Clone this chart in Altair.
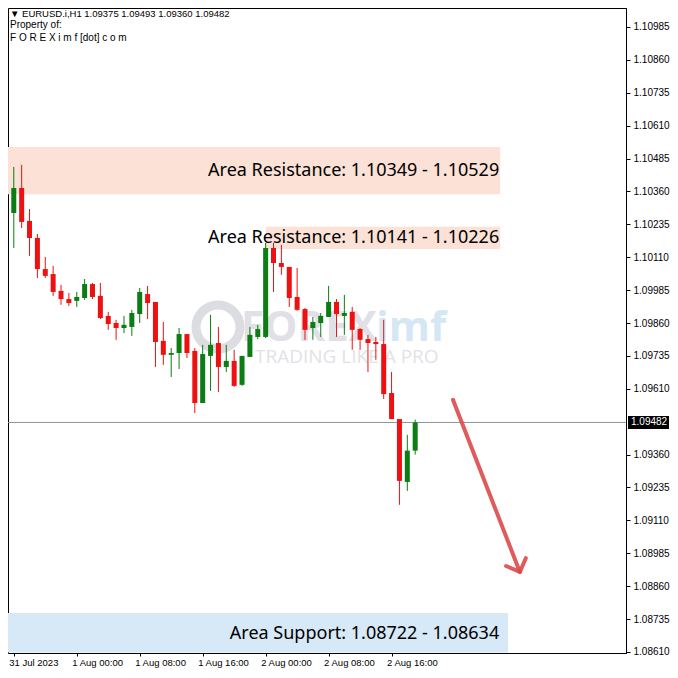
import altair as alt
import pandas as pd

# ---------------- data (EURUSD H1) ----------------
opens = [1.10278, 1.10373, 1.10248, 1.10183, 1.10065, 1.10046, 1.09982, 1.09951,
         1.09944, 1.09955, 1.10008, 1.09963, 1.09887, 1.09860, 1.09841, 1.09845,
         1.09894, 1.09970, 1.09940, 1.09792, 1.09739, 1.09746, 1.09818, 1.09754,
         1.09556, 1.09735, 1.09784, 1.09693, 1.09716, 1.09625, 1.09731, 1.09807,
         1.09807, 1.10145, 1.10088, 1.10073, 1.09959, 1.09913, 1.09841, 1.09860,
         1.09883, 1.09940, 1.09887, 1.09902, 1.09837, 1.09799, 1.09788, 1.09780,
         1.09594, 1.09495, 1.09256, 1.09375]
highs = [1.10453, 1.10461, 1.10293, 1.10198, 1.10111, 1.10077, 1.10005, 1.09974,
         1.09978, 1.10027, 1.10012, 1.10012, 1.09902, 1.09872, 1.09887, 1.09910,
         1.09993, 1.10001, 1.09940, 1.09864, 1.09765, 1.09841, 1.09818, 1.09765,
         1.09777, 1.09891, 1.09845, 1.09777, 1.09758, 1.09735, 1.09845, 1.09853,
         1.10164, 1.10164, 1.10157, 1.10073, 1.10069, 1.09917, 1.09883, 1.09898,
         1.10001, 1.09951, 1.09967, 1.09921, 1.09841, 1.09815, 1.09807, 1.09872,
         1.09674, 1.09495, 1.09435, 1.09493]
lows = [1.10145, 1.10221, 1.10115, 1.10031, 1.10031, 1.09963, 1.09929, 1.09925,
        1.09921, 1.09948, 1.09951, 1.09875, 1.09834, 1.09796, 1.09822, 1.09811,
        1.09860, 1.09875, 1.09693, 1.09701, 1.09655, 1.09685, 1.09727, 1.09518,
        1.09556, 1.09602, 1.09598, 1.09674, 1.09617, 1.09621, 1.09731, 1.09799,
        1.09803, 1.09978, 1.10043, 1.09921, 1.09906, 1.09796, 1.09796, 1.09807,
        1.09883, 1.09807, 1.09815, 1.09758, 1.09758, 1.09674, 1.09720, 1.09571,
        1.09495, 1.09169, 1.09222, 1.09360]
closes = [1.10373, 1.10244, 1.10183, 1.10065, 1.10039, 1.09978, 1.09951, 1.09936,
          1.09959, 1.10008, 1.09959, 1.09879, 1.09856, 1.09841, 1.09853, 1.09898,
          1.09978, 1.09936, 1.09788, 1.09739, 1.09746, 1.09818, 1.09746, 1.09556,
          1.09742, 1.09777, 1.09693, 1.09716, 1.09621, 1.09735, 1.09815, 1.09837,
          1.10145, 1.10088, 1.10073, 1.09955, 1.09910, 1.09834, 1.09864, 1.09887,
          1.09940, 1.09894, 1.09898, 1.09834, 1.09796, 1.09784, 1.09780, 1.09590,
          1.09495, 1.09260, 1.09375, 1.09482]

time_tick_index = [0, 8, 16, 24, 32, 40, 48]
time_tick_labels = ["31 Jul 2023", "1 Aug 00:00", "1 Aug 08:00", "1 Aug 16:00",
                    "2 Aug 00:00", "2 Aug 08:00", "2 Aug 16:00"]
price_ticks = [1.10985, 1.10860, 1.10735, 1.10610, 1.10485, 1.10360, 1.10235,
               1.10110, 1.09985, 1.09860, 1.09735, 1.09610, 1.09360, 1.09235,
               1.09110, 1.08985, 1.08860, 1.08735, 1.08610]

zone_names = ["Area Resistance", "Area Resistance", "Area Support"]
zone_from = [1.10349, 1.10141, 1.08722]
zone_to = [1.10529, 1.10226, 1.08634]
zone_box_hi = [1.10529, 1.10226, 1.08758]
zone_box_lo = [1.10349, 1.10141, 1.08608]
zone_start = [-2.0, 32.0, -2.0]
zone_end = [61.8, 61.8, 62.8]
zone_text_end = [61.8, 61.8, 61.8]
zone_kind = ["res", "res", "sup"]

last_price = 1.09482
arrow_index = [55.8, 64.3]
arrow_price = [1.09568, 1.08914]

symbol = "EURUSD.i,H1"
header_ohlc = "1.09375 1.09493 1.09360 1.09482"

# ---------------- chart ----------------
PLOT_W, PLOT_H = 618, 645
X_DOMAIN = [-0.1, 77.15]
Y_DOMAIN = [1.08606, 1.11057]
xscale = alt.Scale(domain=X_DOMAIN, nice=False, zero=False)
yscale = alt.Scale(domain=Y_DOMAIN, nice=False, zero=False)
RED = "#ee1111"
GREEN = "#0b7d12"
FONT_SMALL = "Liberation Sans"

candles = pd.DataFrame({"i": list(range(len(opens))), "open": opens, "high": highs,
                        "low": lows, "close": closes})
candles["dir"] = ["up" if c >= o else "down" for o, c in zip(opens, closes)]
colscale = alt.Scale(domain=["up", "down"], range=[GREEN, RED])

label_expr = " : ".join(
    f"datum.value == {v} ? '{t}'" for v, t in zip(time_tick_index, time_tick_labels)
) + " : ''"

xaxis = alt.Axis(values=time_tick_index, labelExpr=label_expr, orient="bottom",
                 grid=False, tickSize=3, tickColor="black", domainColor="black",
                 labelAlign="left", labelBaseline="top", labelPadding=1,
                 labelOffset=-5,
                 labelFontSize=9.5, labelFont=FONT_SMALL, labelColor="black",
                 labelOverlap=False, labelFlush=False, title=None)
yaxis = alt.Axis(values=price_ticks, format=".5f", orient="right", grid=False,
                 tickSize=4, tickColor="black", domainColor="black",
                 labelPadding=3, labelFontSize=10, labelFont=FONT_SMALL,
                 labelColor="black", labelOverlap=False, labelFlush=False, title=None)


def X(field):
    return alt.X(field, scale=xscale, axis=xaxis)


def Y(field):
    return alt.Y(field, scale=yscale, axis=yaxis)


zones = pd.DataFrame({
    "start": zone_start, "end": zone_end, "lo": zone_box_lo, "hi": zone_box_hi,
    "kind": zone_kind,
    "text": [f"{n}: {a:.5f} - {b:.5f}" for n, a, b in zip(zone_names, zone_from, zone_to)],
    "mid": [(a + b) / 2 for a, b in zip(zone_from, zone_to)],
    "tend": zone_text_end,
})
zone_rect = alt.Chart(zones).mark_rect(clip=True).encode(
    x=X("start:Q"), x2="end:Q", y=Y("lo:Q"), y2="hi:Q",
    color=alt.Color("kind:N", scale=alt.Scale(domain=["res", "sup"],
                                               range=["#fbe1d6", "#d7e8f7"]), legend=None),
)
zone_text = alt.Chart(zones).mark_text(align="right", baseline="middle", fontSize=18,
                                       font="Noto Sans", color="black", dx=-1).encode(
    x=X("tend:Q"), y=Y("mid:Q"), text="text:N",
)

one = pd.DataFrame({"k": [0]})
wm_circle = alt.Chart(one).mark_point(shape="circle", size=1936, filled=False,
                                      strokeWidth=9, color="#dcdce3", opacity=1).encode(
    x=alt.value(210), y=alt.value(319))
wm_forex = alt.Chart(one).mark_text(text="FOREX", fontSize=42, fontWeight="bold",
                                    font="Open Sans", color="#e0e0e6", align="left",
                                    baseline="middle").encode(x=alt.value(233), y=alt.value(320))
wm_imf = alt.Chart(one).mark_text(text="imf", fontSize=42, fontWeight="bold",
                                  font="Open Sans", color="#d6e7f4", align="left",
                                  baseline="middle").encode(x=alt.value(368), y=alt.value(320))
wm_tag = alt.Chart(one).mark_text(text="TRADING LIKE A PRO", fontSize=19,
                                  font="Open Sans", color="#e2e2e6", align="left",
                                  baseline="middle").encode(x=alt.value(247), y=alt.value(349))

price_df = pd.DataFrame({"p": [last_price], "t": [f"{last_price:.5f}"]})
price_line = alt.Chart(price_df).mark_rule(color="#8c9696", strokeWidth=1).encode(
    y=Y("p:Q"))

wicks = alt.Chart(candles).mark_rule(strokeWidth=1).encode(
    x=X("i:Q"), y=Y("low:Q"), y2="high:Q",
    color=alt.Color("dir:N", scale=colscale, legend=None),
)
bodies = alt.Chart(candles).mark_bar(size=5, orient="vertical").encode(
    x=X("i:Q"), y=Y("open:Q"), y2="close:Q",
    color=alt.Color("dir:N", scale=colscale, legend=None),
)

arrow = pd.DataFrame({"i": arrow_index, "p": arrow_price, "o": [0, 1]})
arrow_line = alt.Chart(arrow).mark_line(color="#dd4a4a", strokeWidth=4, strokeCap="round",
                                        opacity=0.9).encode(
    x=X("i:Q"), y=Y("p:Q"), order="o:Q",
)
arrow_head = alt.Chart(arrow.iloc[[1]]).mark_point(
    shape="M-1,-1L0,0L1,-1", size=450, filled=False, strokeWidth=4, color="#dd4a4a",
    opacity=0.9, angle=338.4, strokeCap="round", strokeJoin="round").encode(
    x=X("i:Q"), y=Y("p:Q"),
)

hdr = alt.Chart(one)
h1 = hdr.mark_text(text=f"\u25bc {symbol}  {header_ohlc}", fontSize=9.5, font=FONT_SMALL,
                   color="black", align="left", baseline="middle").encode(
    x=alt.value(2), y=alt.value(6))
h2 = hdr.mark_text(text="Property of:", fontSize=10, font=FONT_SMALL, color="black",
                   align="left", baseline="middle").encode(x=alt.value(2), y=alt.value(17))
h3 = hdr.mark_text(text="F O R E X i m f [dot] c o m", fontSize=10, font=FONT_SMALL,
                   color="black", align="left", baseline="middle").encode(
    x=alt.value(2), y=alt.value(30))

tag_box = alt.Chart(price_df).mark_tick(color="black", size=41, thickness=13,
                                        orient="horizontal", opacity=1).encode(
    x=alt.value(640.5), y=Y("p:Q"))
tag_text = alt.Chart(price_df).mark_text(color="white", fontSize=10, font=FONT_SMALL,
                                         align="left", baseline="middle").encode(
    x=alt.value(623), y=Y("p:Q"), text="t:N")

chart = alt.layer(
    zone_rect, wm_circle, wm_forex, wm_imf, wm_tag, zone_text, price_line,
    wicks, bodies, arrow_line, arrow_head, h1, h2, h3, tag_box, tag_text,
).resolve_scale(color="independent").properties(
    width=PLOT_W, height=PLOT_H,
    autosize=alt.AutoSizeParams(type="none"),
    padding={"left": 0, "top": 0, "right": 44, "bottom": 17},
    background="white",
).configure_view(stroke="black", strokeWidth=1)

chart.save("out.html", embed_options={"renderer": "svg", "actions": False})
